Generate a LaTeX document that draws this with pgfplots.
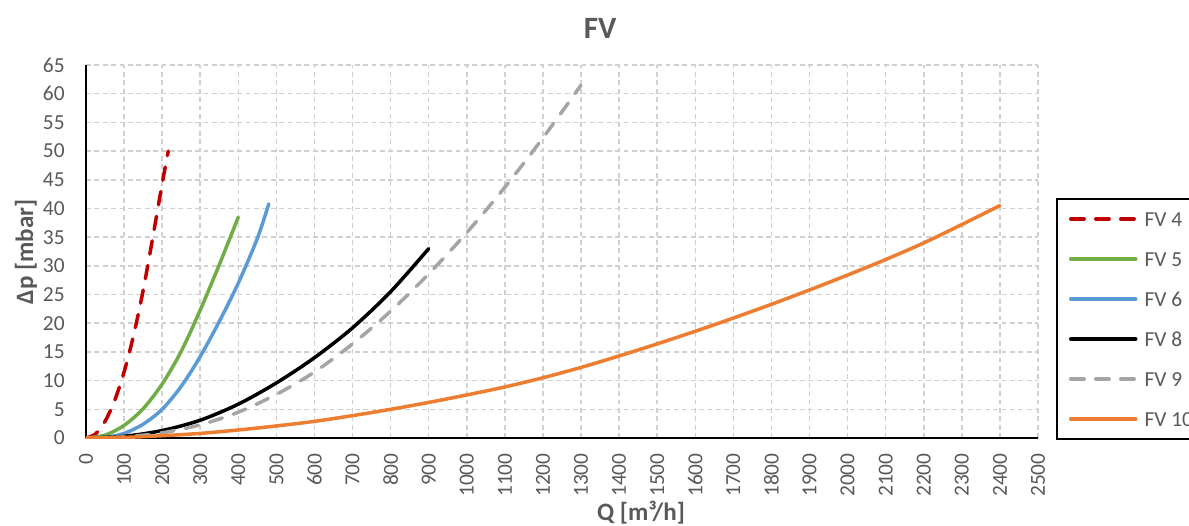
\documentclass[border=0pt]{standalone}
\usepackage{fontspec}
\setmainfont{Carlito}
\usepackage{pgfplots}
\pgfplotsset{compat=1.18}

\definecolor{txtgray}{HTML}{595959}
\definecolor{gridgray}{HTML}{D0D0D0}
\definecolor{fvred}{HTML}{C00000}
\definecolor{fvgreen}{HTML}{70AD47}
\definecolor{fvblue}{HTML}{5B9BD5}
\definecolor{fvgray}{HTML}{A5A5A5}
\definecolor{fvorange}{HTML}{ED7D31}

\begin{document}
\begin{tikzpicture}
  \begin{axis}[
      scale only axis,
      width=476pt, height=186.5pt,
      xmin=0, xmax=2500,
      ymin=0, ymax=65,
      xtick distance=100,
      ytick distance=5,
      axis x line=bottom,
      axis y line=left,
      axis line style={-, black, line width=1pt},
      major tick length=0pt,
      grid=major,
      major grid style={gridgray, line width=0.75pt, dash pattern=on 2.4pt off 1.8pt},
      scaled ticks=false,
      /pgf/number format/1000 sep={},
      /pgf/number format/assume math mode=true,
      tick label style={font=\fontsize{10.7}{12}\selectfont, text=txtgray},
      xticklabel style={rotate=90, anchor=east, inner xsep=7.5pt},
      yticklabel style={anchor=east, inner xsep=10.5pt},
      title={FV},
      title style={at={(axis description cs:0.54,1.066)}, anchor=center,
        font=\fontsize{15.5}{18}\selectfont\bfseries, text=txtgray},
      xlabel={Q [m³/h]},
      xlabel style={at={(axis description cs:0.583,-0.201)}, anchor=center,
        font=\fontsize{12.5}{14}\selectfont\bfseries, text=txtgray},
      ylabel={Δp [mbar]},
      ylabel style={at={(axis description cs:-0.063,0.4987)}, anchor=center, rotate=0,
        font=\fontsize{12.5}{14}\selectfont\bfseries, text=txtgray},
      legend style={at={(axis description cs:1.0189,0.6434)}, anchor=north west,
        draw=black, line width=1pt, fill=white,
        font=\fontsize{10.7}{12}\selectfont, text=txtgray,
        nodes={inner sep=0pt, text height=7pt, text depth=0pt},
        row sep=13pt, column sep=3.5pt, inner xsep=6pt, inner ysep=6.5pt},
      legend cell align=left,
      legend image code/.code={\draw[#1] (0pt,0pt) -- (32.5pt,0pt);},
      every axis plot/.append style={line width=1.75pt, line cap=round},
    ]
    % FV 4
    \addplot[fvred, smooth, dash pattern=on 6.7pt off 5.8pt] coordinates {
      (0,0) (25,0.7) (50,2.9) (75,6.5) (100,11.5) (125,17.9) (150,25.7) (175,34.8) (200,44.3) (216,50.0)
    };
    \addlegendentry{FV 4}
    % FV 5
    \addplot[fvgreen, smooth] coordinates {
      (0,0) (50,0.5) (100,2.2) (150,5.1) (200,9.4) (250,15.1) (300,22.3) (350,30.2) (400,38.5)
    };
    \addlegendentry{FV 5}
    % FV 6
    \addplot[fvblue, smooth] coordinates {
      (0,0) (50,0.1) (100,0.8) (150,2.4) (200,5.0) (250,9.0) (300,14.2) (350,20.3) (400,27.0) (450,34.8) (480,40.8)
    };
    \addlegendentry{FV 6}
    % FV 8
    \addplot[black, smooth] coordinates {
      (0,0) (100,0.3) (200,1.3) (300,3.1) (400,5.9) (500,9.6) (600,14.0) (700,19.2) (800,25.5) (900,33.0)
    };
    \addlegendentry{FV 8}
    % FV 9
    \addplot[fvgray, smooth, dash pattern=on 6.7pt off 5.8pt] coordinates {
      (0,0) (100,0.2) (200,0.9) (300,2.3) (400,4.5) (500,7.6) (600,11.5) (700,16.4) (800,22.1)
      (900,28.6) (1000,35.8) (1100,43.7) (1200,52.3) (1300,61.5)
    };
    \addlegendentry{FV 9}
    % FV 10
    \addplot[fvorange, smooth] coordinates {
      (0,0) (100,0.1) (200,0.4) (300,0.8) (400,1.4) (500,2.1) (600,2.9) (700,3.9) (800,5.0)
      (900,6.2) (1000,7.5) (1100,8.9) (1200,10.5) (1300,12.3) (1400,14.3) (1500,16.4)
      (1600,18.6) (1700,20.9) (1800,23.3) (1900,25.8) (2000,28.4) (2100,31.1) (2200,34.0)
      (2300,37.2) (2400,40.5)
    };
    \addlegendentry{FV 10}
  \end{axis}
  \pgfresetboundingbox
  \useasboundingbox (-43pt,-43.5pt) rectangle (551.5pt,219pt);
\end{tikzpicture}
\end{document}
